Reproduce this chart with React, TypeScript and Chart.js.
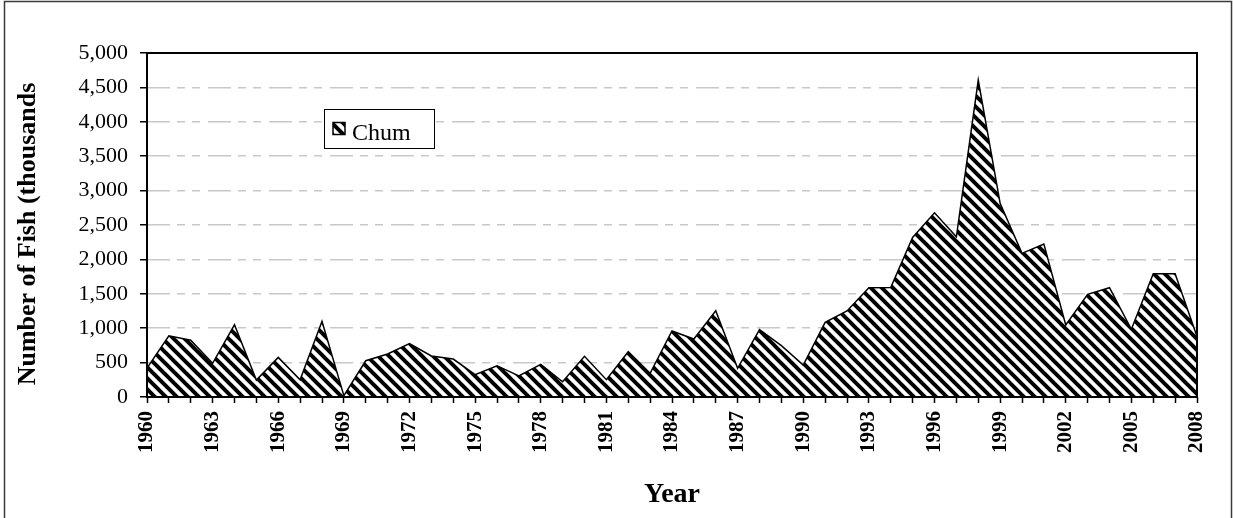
import React, { useEffect, useRef } from "react";
import { Chart, registerables } from "chart.js";

Chart.register(...registerables);

const years: string[] = [
  "1960", "1961", "1962", "1963", "1964", "1965", "1966", "1967", "1968", "1969",
  "1970", "1971", "1972", "1973", "1974", "1975", "1976", "1977", "1978", "1979",
  "1980", "1981", "1982", "1983", "1984", "1985", "1986", "1987", "1988", "1989",
  "1990", "1991", "1992", "1993", "1994", "1995", "1996", "1997", "1998", "1999",
  "2000", "2001", "2002", "2003", "2004", "2005", "2006", "2007", "2008",
];

const chum: number[] = [
  420, 890, 825, 490, 1050, 245, 575, 250, 1100, 20,
  527, 625, 775, 596, 552, 325, 455, 305, 475, 222,
  591, 252, 658, 344, 959, 843, 1254, 417, 978, 746,
  465, 1085, 1250, 1588, 1590, 2320, 2678, 2329, 4606, 2815,
  2088, 2223, 1046, 1492, 1588, 984, 1792, 1792, 880,
];

const seriesLabel = "Chum";
const xTitle = "Year";
const yTitle = "Number of Fish (thousands";
const yMin = 0;
const yMax = 5000;
const yStep = 500;
const labelEvery = 3;

const FONT = "'Liberation Serif', 'Times New Roman', serif";

function makeHatch(): CanvasPattern | string {
  const p = 11;
  const c = document.createElement("canvas");
  c.width = p;
  c.height = p;
  const g = c.getContext("2d");
  if (!g) return "#000";
  g.fillStyle = "#fff";
  g.fillRect(0, 0, p, p);
  g.strokeStyle = "#000";
  g.lineWidth = 4;
  for (const o of [-p, 0, p]) {
    g.beginPath();
    g.moveTo(o - 2, -2);
    g.lineTo(o + p + 2, p + 2);
    g.stroke();
  }
  return g.createPattern(c, "repeat") || "#000";
}

export default function App() {
  const ref = useRef<HTMLCanvasElement | null>(null);

  useEffect(() => {
    document.body.style.margin = "0";
    const canvas = ref.current;
    if (!canvas) return;
    const hatch = makeHatch();

    const decor = {
      id: "decor",
      afterDatasetsDraw(chart: any) {
        const { ctx, chartArea: a } = chart;
        ctx.save();
        ctx.strokeStyle = "#000";
        ctx.lineWidth = 2;
        ctx.strokeRect(a.left, a.top, a.right - a.left, a.bottom - a.top);
        ctx.restore();
      },
      afterDraw(chart: any) {
        const { ctx, chartArea: a } = chart;
        // outer frame
        ctx.save();
        ctx.strokeStyle = "#3a3a3a";
        ctx.lineWidth = 1.5;
        ctx.strokeRect(4.5, 1.5, 1227, 600);
        ctx.restore();
        // y axis title
        ctx.save();
        ctx.font = `bold 26px ${FONT}`;
        ctx.fillStyle = "#000";
        ctx.textAlign = "center";
        ctx.textBaseline = "middle";
        ctx.translate(28, 234);
        ctx.rotate(-Math.PI / 2);
        ctx.fillText(yTitle, 0, 0);
        ctx.restore();
        // x axis title
        ctx.save();
        ctx.font = `bold 28px ${FONT}`;
        ctx.fillStyle = "#000";
        ctx.textAlign = "center";
        ctx.textBaseline = "alphabetic";
        ctx.fillText(xTitle, (a.left + a.right) / 2, 502);
        ctx.restore();
        // legend
        ctx.save();
        ctx.fillStyle = "#fff";
        ctx.fillRect(324.5, 109.5, 110, 39);
        ctx.strokeStyle = "#000";
        ctx.lineWidth = 1;
        ctx.strokeRect(324.5, 109.5, 110, 39);
        ctx.fillStyle = chart.data.datasets[0].backgroundColor;
        ctx.fillRect(333, 122.5, 12, 12);
        ctx.lineWidth = 1.5;
        ctx.strokeRect(333, 122.5, 12, 12);
        ctx.font = `24px ${FONT}`;
        ctx.fillStyle = "#000";
        ctx.textAlign = "left";
        ctx.textBaseline = "alphabetic";
        ctx.fillText(chart.data.datasets[0].label, 352, 139.5);
        ctx.restore();
      },
    };

    const chart = new Chart(canvas, {
      type: "line",
      data: {
        labels: years,
        datasets: [
          {
            label: seriesLabel,
            data: chum,
            fill: "origin",
            backgroundColor: hatch as any,
            borderColor: "#000",
            borderWidth: 1.5,
            pointRadius: 0,
            tension: 0,
          },
        ],
      },
      options: {
        animation: false,
        responsive: false,
        layout: { padding: { left: 0, top: 53, right: 36, bottom: 0 } },
        plugins: {
          legend: { display: false },
          tooltip: { enabled: false },
          title: { display: false },
        },
        scales: {
          x: {
            type: "category",
            offset: false,
            afterFit: (s: any) => {
              s.height = 121;
            },
            border: { display: false },
            grid: {
              display: true,
              drawOnChartArea: false,
              drawTicks: true,
              tickLength: 6,
              tickColor: "#000",
              tickWidth: 1.5,
            },
            ticks: {
              autoSkip: false,
              minRotation: 90,
              maxRotation: 90,
              padding: 8,
              color: "#000",
              font: { family: FONT, size: 21, weight: "bold" },
              callback: (_v: any, i: number) => (i % labelEvery === 0 ? years[i] : ""),
            },
          },
          y: {
            min: yMin,
            max: yMax,
            afterFit: (s: any) => {
              s.width = 147;
            },
            border: { display: false, dash: [23, 7, 8, 7, 8, 8] },
            grid: {
              color: (c: any) =>
                c.tick && (c.tick.value === yMin || c.tick.value === yMax) ? "rgba(0,0,0,0)" : "#c8c8c8",
              lineWidth: 1.5,
              drawTicks: true,
              tickLength: 7,
              tickColor: "#000",
              tickWidth: 1.5,
            },
            ticks: {
              stepSize: yStep,
              padding: 12,
              color: "#000",
              font: { family: FONT, size: 22 },
              callback: (v: any) => Number(v).toLocaleString("en-US"),
            },
          },
        },
      },
      plugins: [decor],
    });

    return () => chart.destroy();
  }, []);

  return (
    <div style={{ width: 1233, height: 518, position: "relative", background: "#fff" }}>
      <canvas ref={ref} width={1233} height={518} style={{ display: "block" }} />
    </div>
  );
}
